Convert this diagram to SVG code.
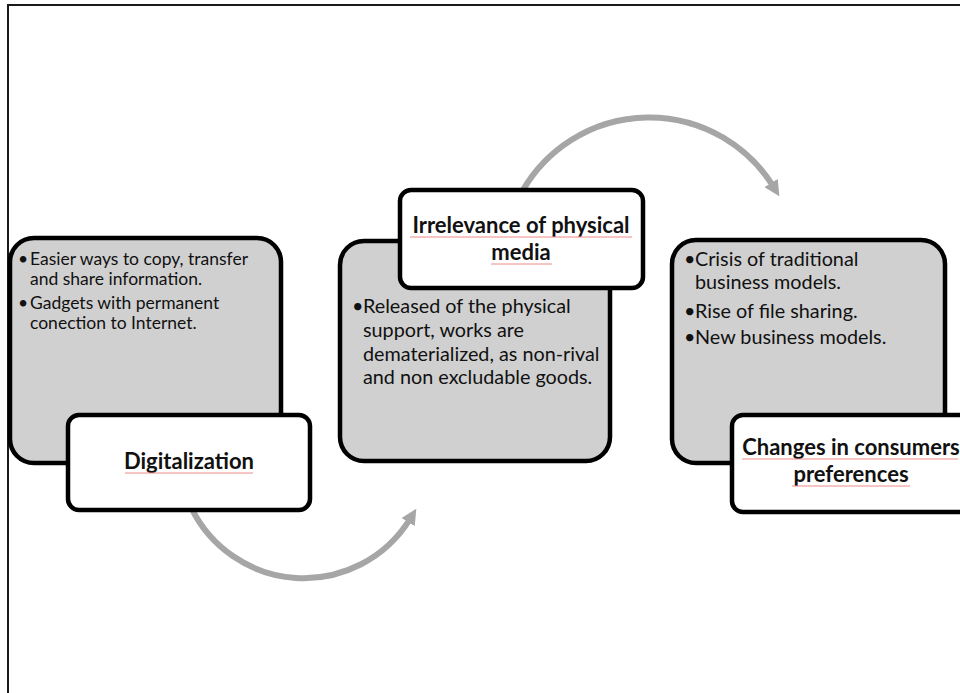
<svg xmlns="http://www.w3.org/2000/svg" width="960" height="693" viewBox="0 0 960 693">
<style>
.bg{fill:#d0d0d0;stroke:#000;stroke-width:4.5}
.lb{fill:#fff;stroke:#000;stroke-width:4.5}
.t{font-family:Lato,"Liberation Sans",sans-serif;fill:#111}
.s1{font-size:17.5px}
.s2{font-size:19.8px}
.h{font-family:Lato,"Liberation Sans",sans-serif;font-weight:bold;font-size:22px;fill:#111;text-anchor:middle}
.arc{fill:none;stroke:#a6a6a6;stroke-width:6}
.sq{stroke:#f08a8a;stroke-width:1;fill:none}
</style>
<defs>
<marker id="ah" markerWidth="2.6" markerHeight="2.6" refX="0.6" refY="1.3" orient="auto" markerUnits="strokeWidth">
<path d="M0,0 L2.6,1.3 L0,2.6 Z" fill="#a6a6a6"/>
</marker>
</defs>
<rect x="8" y="5" width="970" height="710" fill="#fff" stroke="#1a1a1a" stroke-width="2"/>
<g id="connectors">
<path class="arc" d="M 190 505 A 125 125 0 0 0 410 519" marker-end="url(#ah)"/>
<path class="arc" d="M 523 190 A 146 146 0 0 1 773 186" marker-end="url(#ah)"/>
</g>
<g id="node1">
<rect class="bg" x="10" y="238" width="271" height="225" rx="24"/>
<text class="t s1" x="18" y="265">•</text>
<text class="t s1" x="30" y="265">Easier ways to copy, transfer</text>
<text class="t s1" x="30" y="285">and share information.</text>
<text class="t s1" x="18" y="309">•</text>
<text class="t s1" x="30" y="309">Gadgets with permanent</text>
<text class="t s1" x="30" y="329">conection to Internet.</text>
</g>
<g id="label1">
<rect class="lb" x="68" y="415" width="242" height="95" rx="11"/>
<text class="h" x="189" y="469">Digitalization</text>
<path class="sq" d="M125 473 H253"/>
</g>
<g id="node2">
<rect class="bg" x="340" y="241" width="270" height="220" rx="24"/>
<text class="t s2" x="352" y="313">•</text>
<text class="t s2" x="363" y="313">Released of the physical</text>
<text class="t s2" x="363" y="337">support, works are</text>
<text class="t s2" x="363" y="361">dematerialized, as non-rival</text>
<text class="t s2" x="363" y="384">and non excludable goods.</text>
</g>
<g id="label2">
<rect class="lb" x="400" y="190" width="243" height="98" rx="11"/>
<text class="h" x="521" y="233">Irrelevance of physical</text>
<text class="h" x="521" y="260">media</text>
<path class="sq" d="M410 237 H632 M491 264 H552"/>
</g>
<g id="node3">
<rect class="bg" x="672" y="240" width="273" height="223" rx="24"/>
<text class="t s2" x="684" y="266">•</text>
<text class="t s2" x="695" y="266">Crisis of traditional</text>
<text class="t s2" x="695" y="289">business models.</text>
<text class="t s2" x="684" y="318">•</text>
<text class="t s2" x="695" y="318">Rise of file sharing.</text>
<text class="t s2" x="684" y="344">•</text>
<text class="t s2" x="695" y="344">New business models.</text>
</g>
<g id="label3">
<rect class="lb" x="732" y="415" width="250" height="97" rx="11"/>
<text class="h" x="851" y="455">Changes in consumers</text>
<text class="h" x="851" y="482">preferences</text>
<path class="sq" d="M742 459 H958 M792 486 H910"/>
</g>
</svg>
